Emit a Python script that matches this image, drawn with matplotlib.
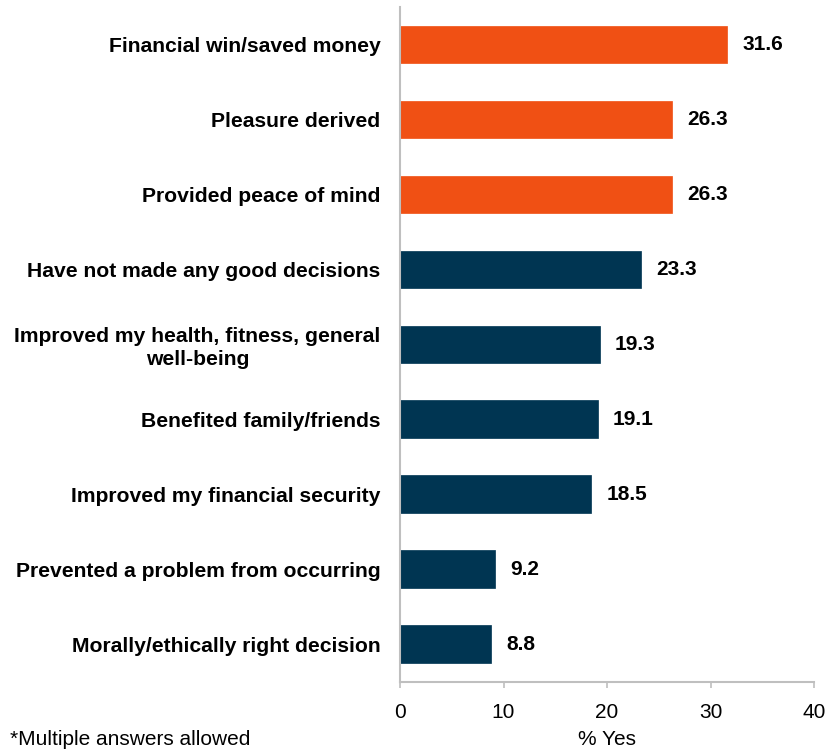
import matplotlib
matplotlib.use("Agg")
import matplotlib.pyplot as plt

categories = [
    "Financial win/saved money",
    "Pleasure derived",
    "Provided peace of mind",
    "Have not made any good decisions",
    "Improved my health, fitness, general\nwell-being",
    "Benefited family/friends",
    "Improved my financial security",
    "Prevented a problem from occurring",
    "Morally/ethically right decision",
]
values = [31.6, 26.3, 26.3, 23.3, 19.3, 19.1, 18.5, 9.2, 8.8]
highlight = [True, True, True, False, False, False, False, False, False]
xticks = [0, 10, 20, 30, 40]

orange = "#F05014"
navy = "#003552"
grey = "#BFBFBF"

plt.rcParams['font.family'] = ['Liberation Sans', 'DejaVu Sans']

fig = plt.figure(figsize=(8.27, 7.51), dpi=100)
ax = fig.add_axes([0.4837, 0.0925, 0.5006, 0.8982])

colors = [orange if h else navy for h in highlight]
ypos = list(range(len(categories)))
ax.barh(ypos, values, height=0.5, color=colors, edgecolor=colors, linewidth=0.5)
ax.set_ylim(len(categories) - 0.5, -0.5)
ax.set_xlim(0, 40)

# value labels just right of each bar
for y, v in zip(ypos, values):
    ax.annotate(f"{v:.1f}", xy=(v, y), xytext=(11, 0), textcoords="offset points",
                ha="left", va="center", fontsize=15, fontweight="bold", color="black")

ax.set_yticks(ypos)
ax.set_yticklabels(categories, fontsize=15.2, fontweight="bold", multialignment="center",
                   linespacing=1.25)
ax.tick_params(axis="y", length=0, pad=14)
ax.set_xticks(xticks)
ax.tick_params(axis="x", length=4.5, width=1.2, color=grey, labelsize=15, pad=11)
ax.set_xlabel("% Yes", fontsize=15, labelpad=6)

for s in ["top", "right"]:
    ax.spines[s].set_visible(False)
for s in ["left", "bottom"]:
    ax.spines[s].set_color(grey)
    ax.spines[s].set_linewidth(1.5)

fig.text(0.012, 0.008, "*Multiple answers allowed", fontsize=15, ha="left", va="baseline")

fig.savefig("out.png", dpi=100)
